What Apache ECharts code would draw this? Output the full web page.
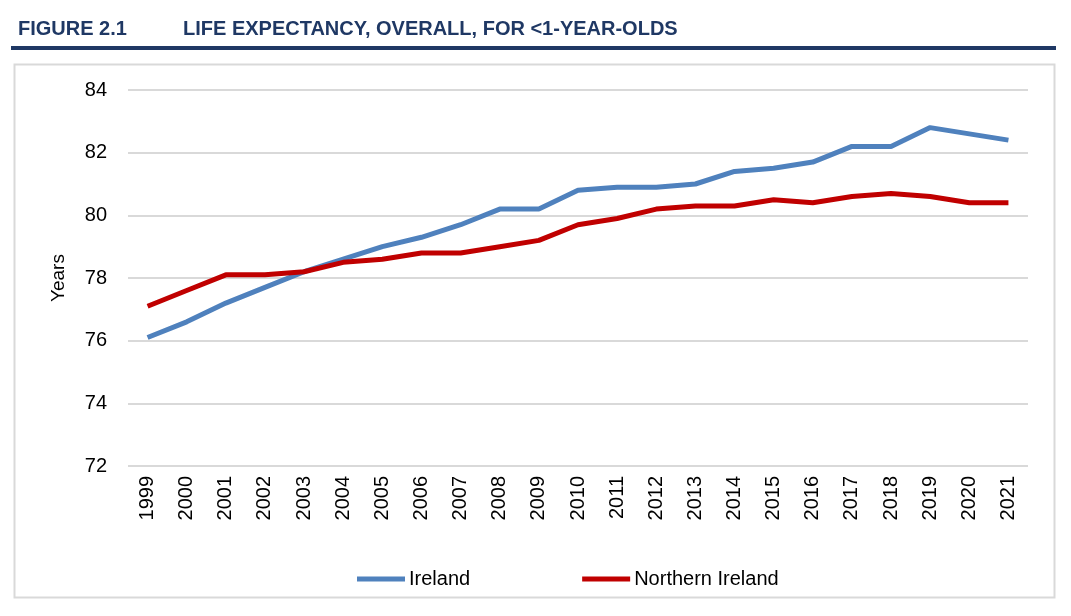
<!DOCTYPE html>
<html>
<head>
<meta charset="utf-8">
<script src="https://cdn.jsdelivr.net/npm/echarts@6/dist/echarts.min.js"></script>
<style>
html,body{margin:0;padding:0;background:#fff;}
#main{width:1071px;height:616px;}
</style>
</head>
<body>
<div id="main"></div>
<script>
const years = ['1999','2000','2001','2002','2003','2004','2005','2006','2007','2008','2009','2010','2011','2012','2013','2014','2015','2016','2017','2018','2019','2020','2021'];
const ireland = [76.1,76.6,77.2,77.7,78.2,78.6,79.0,79.3,79.7,80.2,80.2,80.8,80.9,80.9,81.0,81.4,81.5,81.7,82.2,82.2,82.8,82.6,82.4];
const northernIreland = [77.1,77.6,78.1,78.1,78.2,78.5,78.6,78.8,78.8,79.0,79.2,79.7,79.9,80.2,80.3,80.3,80.5,80.4,80.6,80.7,80.6,80.4,80.4];
const yTicks = [72,74,76,78,80,82,84];

const font = "'Liberation Sans','Noto Sans',sans-serif";
const chart = echarts.init(document.getElementById('main'));
chart.setOption({
  animation:false,
  backgroundColor:'#fff',
  graphic:[
    {type:'text', left:18, top:19, style:{text:'FIGURE 2.1', font:"bold 20px "+font, fill:'#1f3864'}},
    {type:'text', left:183, top:19, style:{text:'LIFE EXPECTANCY, OVERALL, FOR <1-YEAR-OLDS', font:"bold 20px "+font, fill:'#1f3864'}},
    {type:'rect', shape:{x:11,y:46,width:1045,height:4}, style:{fill:'#1f3864'}},
    {type:'rect', shape:{x:14.5,y:64.5,width:1040,height:533}, style:{fill:'none', stroke:'#d9d9d9', lineWidth:2}}
  ],
  grid:{left:128, right:43, top:90, bottom:150},
  legend:{
    top:564, left:352, itemGap:112, itemWidth:48, itemHeight:5,
    textStyle:{fontFamily:font, fontSize:20, color:'#000', padding:[0,0,0,-1]},
    icon:'rect',
    data:['Ireland','Northern Ireland']
  },
  xAxis:{
    type:'category', data:years, boundaryGap:true,
    axisLine:{show:false}, axisTick:{show:false},
    axisLabel:{rotate:90, fontFamily:font, fontSize:20, color:'#000', margin:10}
  },
  yAxis:{
    type:'value', min:72, max:84, interval:2,
    name:'Years', nameLocation:'middle', nameGap:60, nameRotate:90,
    nameTextStyle:{fontFamily:font, fontSize:19, color:'#000'},
    axisLine:{show:false}, axisTick:{show:false},
    axisLabel:{fontFamily:font, fontSize:20, color:'#000', margin:21},
    splitLine:{lineStyle:{color:'#d9d9d9', width:2}}
  },
  series:[
    {name:'Ireland', type:'line', data:ireland, symbol:'none', lineStyle:{color:'#4f81bd', width:5}, itemStyle:{color:'#4f81bd'}},
    {name:'Northern Ireland', type:'line', data:northernIreland, symbol:'none', lineStyle:{color:'#c00000', width:5}, itemStyle:{color:'#c00000'}}
  ]
});
</script>
</body>
</html>
